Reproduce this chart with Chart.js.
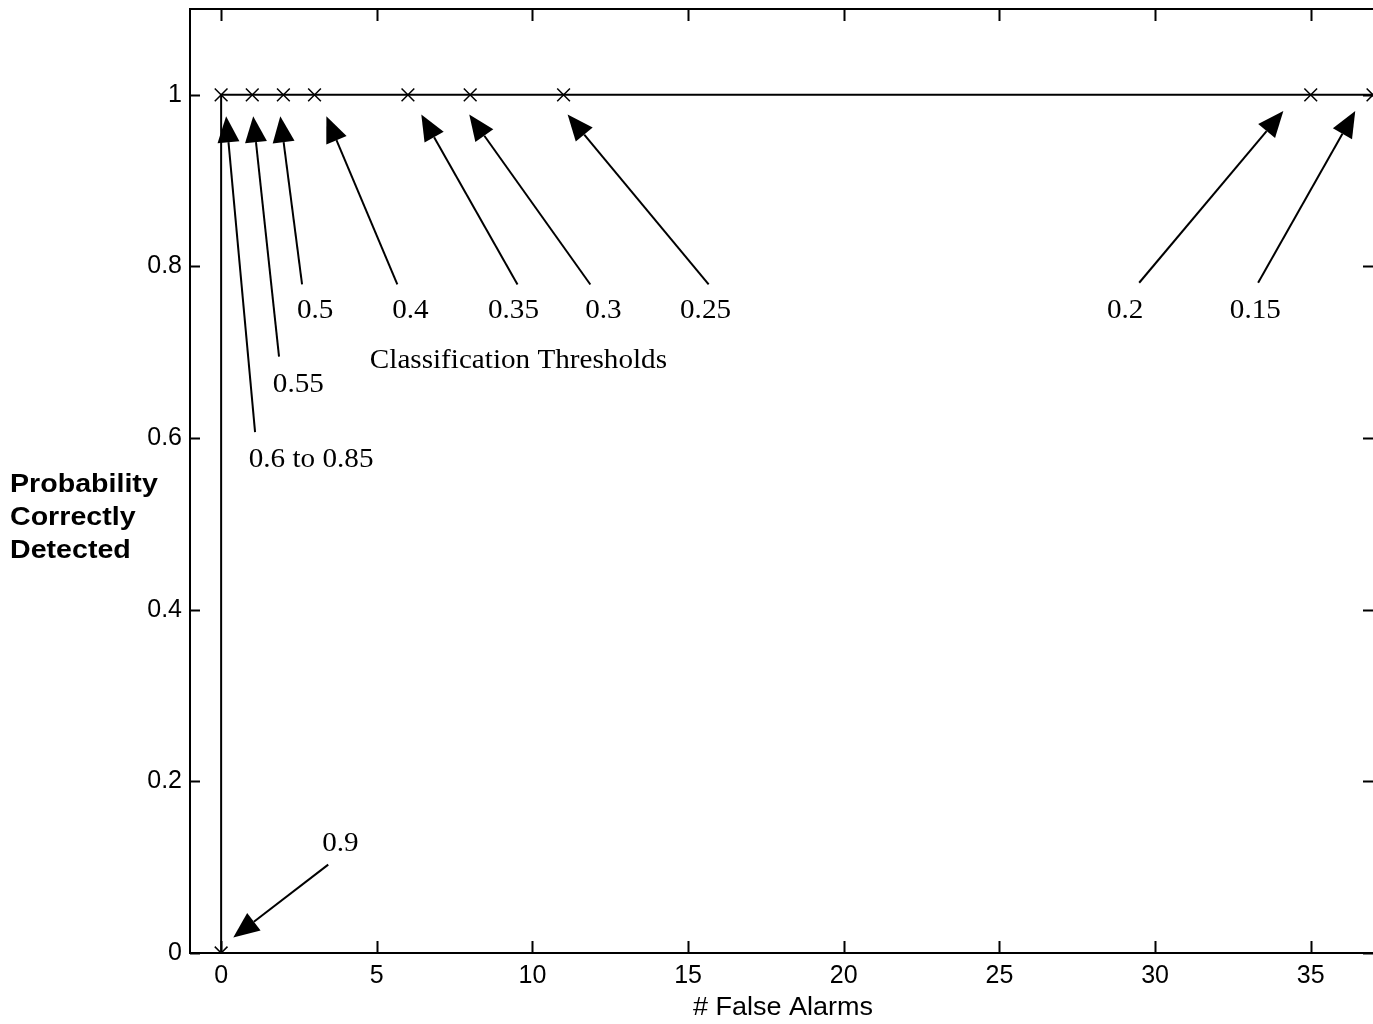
<!DOCTYPE html>
<html>
<head>
<meta charset="utf-8">
<script src="https://cdn.jsdelivr.net/npm/chart.js@4/dist/chart.umd.min.js"></script>
<style>
  html, body { margin: 0; padding: 0; background: #fff; overflow: hidden; }
  #wrap { width: 1373px; height: 1024px; }
  canvas { display: block; }
</style>
</head>
<body>
<div id="wrap"><canvas id="rocChart"></canvas></div>
<script>
// ROC points: false alarm count vs probability of correct detection
const falseAlarms = [0, 0, 1, 2, 3, 6, 8, 11, 35, 37];
const probDetected = [0, 1, 1, 1, 1, 1, 1, 1, 1, 1];
const thresholdLabels = ['0.9', '0.6 to 0.85', '0.55', '0.5', '0.4', '0.35', '0.3', '0.25', '0.2', '0.15'];
const xTicks = [0, 5, 10, 15, 20, 25, 30, 35];
const yTicks = [0, 0.2, 0.4, 0.6, 0.8, 1];

// arrow callouts, all in data units (tip = arrow head, tail = line start, at = label centre)
const callouts = [
  { text: thresholdLabels[0], tip: [0.39, 0.018], tail: [3.44, 0.103], at: [3.83, 0.127] },
  { text: thresholdLabels[1], tip: [0.16, 0.975], tail: [1.09, 0.607], at: [2.89, 0.574] },
  { text: thresholdLabels[2], tip: [1.03, 0.975], tail: [1.86, 0.695], at: [2.48, 0.662] },
  { text: thresholdLabels[3], tip: [1.90, 0.975], tail: [2.60, 0.779], at: [3.02, 0.748] },
  { text: thresholdLabels[4], tip: [3.38, 0.975], tail: [5.66, 0.779], at: [6.08, 0.748] },
  { text: thresholdLabels[5], tip: [6.43, 0.977], tail: [9.52, 0.779], at: [9.39, 0.748] },
  { text: thresholdLabels[6], tip: [7.97, 0.977], tail: [11.86, 0.779], at: [12.28, 0.748] },
  { text: thresholdLabels[7], tip: [11.13, 0.977], tail: [15.66, 0.779], at: [15.56, 0.748] },
  { text: thresholdLabels[8], tip: [34.12, 0.981], tail: [29.49, 0.781], at: [29.04, 0.748] },
  { text: thresholdLabels[9], tip: [36.43, 0.981], tail: [33.31, 0.781], at: [33.22, 0.748] }
];
const groupNote = { text: 'Classification Thresholds', at: [9.55, 0.690] };

const serif = '"Liberation Serif", "Times New Roman", serif';
const sans = '"Liberation Sans", Arial, sans-serif';

function arrow(ctx, x0, y0, x1, y1) {
  const ang = Math.atan2(y1 - y0, x1 - x0);
  const len = 26, half = 11;
  const bx = x1 - len * Math.cos(ang), by = y1 - len * Math.sin(ang);
  ctx.beginPath();
  ctx.moveTo(x0, y0);
  ctx.lineTo(bx, by);
  ctx.stroke();
  ctx.beginPath();
  ctx.moveTo(x1, y1);
  ctx.lineTo(bx + half * Math.sin(ang), by - half * Math.cos(ang));
  ctx.lineTo(bx - half * Math.sin(ang), by + half * Math.cos(ang));
  ctx.closePath();
  ctx.fill();
}

// scanned original is slightly stretched sideways
function wideText(ctx, text, x, y, sx) {
  ctx.save();
  ctx.translate(x, y);
  ctx.scale(sx, 1);
  ctx.fillText(text, 0, 0);
  ctx.restore();
}

const frame = {
  id: 'frame',
  afterDatasetsDraw(chart) {
    const { ctx, chartArea: a, scales: { x, y } } = chart;
    ctx.save();
    ctx.strokeStyle = '#000';
    ctx.fillStyle = '#000';

    // box (right side falls off the scanned page)
    ctx.lineWidth = 2;
    ctx.beginPath();
    ctx.moveTo(a.right + 2, a.top);
    ctx.lineTo(a.left, a.top);
    ctx.lineTo(a.left, a.bottom);
    ctx.lineTo(a.right + 2, a.bottom);
    ctx.stroke();

    // inward ticks, all four sides
    ctx.beginPath();
    xTicks.forEach(v => {
      const px = Math.round(x.getPixelForValue(v)) + 0.5;
      ctx.moveTo(px, a.bottom); ctx.lineTo(px, a.bottom - 12);
      ctx.moveTo(px, a.top); ctx.lineTo(px, a.top + 12);
    });
    yTicks.forEach(v => {
      const py = Math.round(y.getPixelForValue(v)) + 0.5;
      ctx.moveTo(a.left, py); ctx.lineTo(a.left + 10, py);
      ctx.moveTo(a.right, py); ctx.lineTo(a.right - 10, py);
    });
    ctx.stroke();

    // callouts
    ctx.lineWidth = 2;
    ctx.font = '27px ' + serif;
    ctx.textAlign = 'center';
    ctx.textBaseline = 'middle';
    callouts.forEach(c => {
      arrow(ctx,
        x.getPixelForValue(c.tail[0]), y.getPixelForValue(c.tail[1]),
        x.getPixelForValue(c.tip[0]), y.getPixelForValue(c.tip[1]));
      wideText(ctx, c.text, x.getPixelForValue(c.at[0]), y.getPixelForValue(c.at[1]), 1.08);
    });
    wideText(ctx, groupNote.text, x.getPixelForValue(groupNote.at[0]), y.getPixelForValue(groupNote.at[1]), 1.08);

    // axis titles
    ctx.font = '25px ' + sans;
    wideText(ctx, '# False Alarms', 783, 1008, 1.08);
    ctx.font = 'bold 26px ' + sans;
    ctx.textAlign = 'left';
    ['Probability', 'Correctly', 'Detected'].forEach((t, i) => {
      wideText(ctx, t, 10, 485 + i * 33, 1.1);
    });
    ctx.restore();
  }
};

new Chart(document.getElementById('rocChart'), {
  type: 'line',
  data: {
    datasets: [{
      data: falseAlarms.map((v, i) => ({ x: v, y: probDetected[i] })),
      borderColor: '#000',
      borderWidth: 2,
      pointStyle: 'crossRot',
      pointRadius: 9,
      pointBorderWidth: 1.5,
      pointBorderColor: '#000',
      tension: 0,
      fill: false
    }]
  },
  options: {
    responsive: true,
    maintainAspectRatio: false,
    animation: false,
    layout: { autoPadding: false, padding: { top: 9, right: 0, left: 0, bottom: 0 } },
    plugins: { legend: { display: false }, tooltip: { enabled: false } },
    scales: {
      x: {
        type: 'linear',
        min: -1,
        max: 37,
        afterBuildTicks: s => { s.ticks = xTicks.map(v => ({ value: v })); },
        afterFit: s => { s.height = 71; s.paddingLeft = 0; s.paddingRight = 0; },
        grid: { display: false, drawTicks: false },
        border: { display: false },
        ticks: { color: '#000', padding: 8, maxRotation: 0, font: { family: sans, size: 25 } }
      },
      y: {
        min: 0,
        max: 1.1,
        afterBuildTicks: s => { s.ticks = yTicks.map(v => ({ value: v })); },
        afterFit: s => { s.width = 190; s.paddingTop = 0; s.paddingBottom = 0; },
        grid: { display: false, drawTicks: false },
        border: { display: false },
        ticks: {
          color: '#000', padding: 8, font: { family: sans, size: 25 },
          callback: v => String(v)
        }
      }
    }
  },
  plugins: [frame]
});
</script>
</body>
</html>
